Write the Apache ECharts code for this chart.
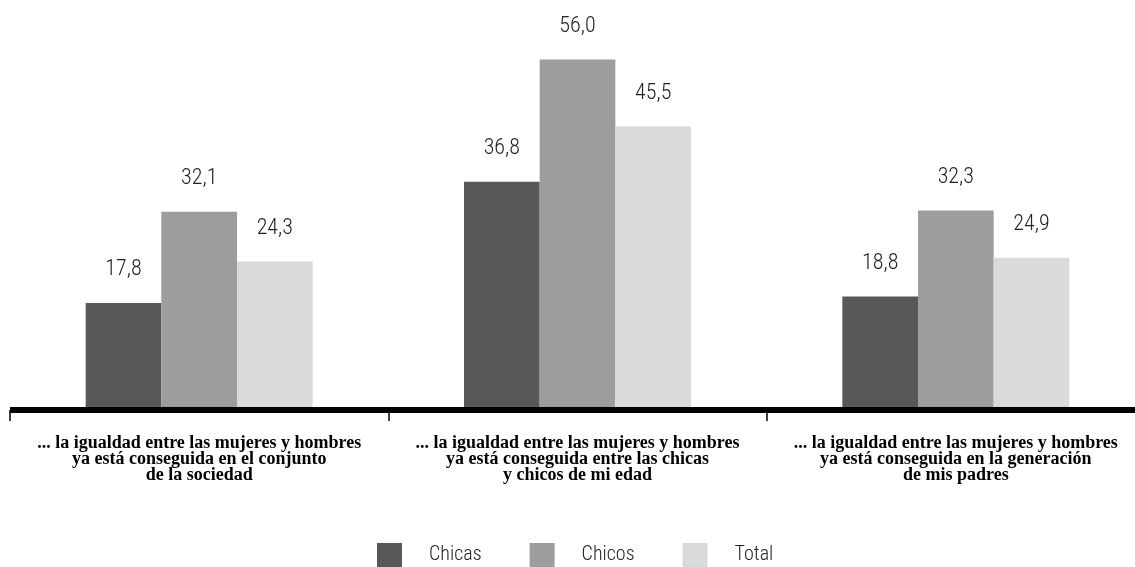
<!DOCTYPE html>
<html>

<head>
    <meta charset="utf-8">
    <script src="https://cdn.jsdelivr.net/npm/echarts@6/dist/echarts.min.js"></script>
</head>

<body style="margin:0">
    <div id="main" style="width: 1135px;height:567px;"></div>
    <script type="text/javascript">
        var categories = [
            '... la igualdad entre las mujeres y hombres\nya está conseguida en el conjunto\nde la sociedad',
            '... la igualdad entre las mujeres y hombres\nya está conseguida entre las chicas\ny chicos de mi edad',
            '... la igualdad entre las mujeres y hombres\nya está conseguida en la generación\nde mis padres'
        ];
        var chicas = [17.8, 36.8, 18.8];
        var chicos = [32.1, 56.0, 32.3];
        var total = [24.3, 45.5, 24.9];

        var numFont = '"Roboto Condensed", "Liberation Sans Narrow", Roboto, sans-serif';

        function fmt(p) {
            return p.value.toFixed(1).replace('.', ',');
        }

        function barSeries(name, data, color) {
            return {
                name: name,
                type: 'bar',
                data: data,
                barGap: 0,
                barCategoryGap: '40%',
                itemStyle: { color: color },
                label: {
                    show: true,
                    position: 'top',
                    distance: 22,
                    formatter: fmt,
                    fontFamily: numFont,
                    fontWeight: 300,
                    fontSize: 22,
                    color: '#222'
                }
            };
        }

        var chart = echarts.init(document.getElementById('main'));
        chart.setOption({
            animation: false,
            grid: { left: 10, right: -10, top: 34, bottom: 157, outerBoundsMode: 'none', containLabel: false },
            legend: {
                left: 377,
                top: 543,
                padding: 0,
                itemWidth: 25,
                itemHeight: 24,
                itemGap: 48,
                icon: 'rect',
                textStyle: {
                    fontFamily: numFont,
                    fontWeight: 300,
                    fontSize: 20,
                    color: '#222',
                    padding: [0, 0, 0, 22]
                },
                data: ['Chicas', 'Chicos', 'Total']
            },
            xAxis: {
                type: 'category',
                data: categories,
                z: 5,
                axisLine: { lineStyle: { color: '#000', width: 6, cap: 'butt' } },
                axisTick: { show: true, interval: 0, length: 11, lineStyle: { color: '#000', width: 1.5 } },
                axisLabel: {
                    interval: 0,
                    margin: 25,
                    fontFamily: '"Liberation Serif", "Times New Roman", serif',
                    fontWeight: 'bold',
                    fontSize: 18,
                    lineHeight: 16,
                    color: '#000'
                }
            },
            yAxis: {
                type: 'value',
                min: 1,
                max: 60,
                show: false
            },
            series: [
                barSeries('Chicas', chicas, '#58585a'),
                barSeries('Chicos', chicos, '#9d9d9f'),
                barSeries('Total', total, '#d9dadc')
            ]
        });
    </script>
</body>

</html>
